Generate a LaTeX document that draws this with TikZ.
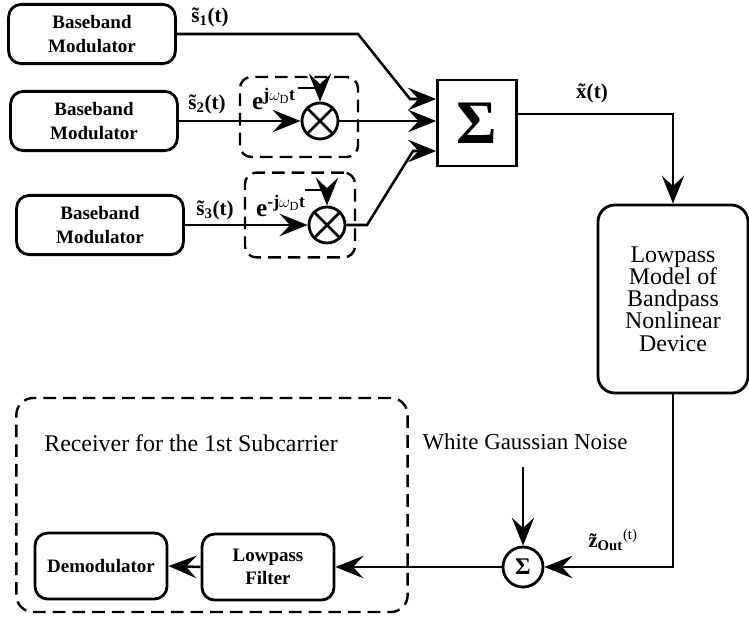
\documentclass[tikz,border=0pt]{standalone}
\usepackage{fontspec}
\setmainfont{Liberation Serif}
\usetikzlibrary{arrows.meta,calc,positioning}

\begin{document}
\begin{tikzpicture}[
      x=0.025cm, y=-0.025cm,
      >={Stealth[length=7mm,width=5.6mm,inset=2.6mm]},
      modBox/.style={draw, line width=2pt, rounded corners=9pt, minimum width=4.17cm, minimum height=1.48cm, align=center, font=\fontsize{13.5}{16.5}\selectfont\bfseries},
      rxBox/.style={modBox, minimum width=3.3cm, minimum height=1.65cm},
      modelBox/.style={draw, line width=2pt, rounded corners=12pt, minimum width=3.75cm, minimum height=4.7cm, align=center, font=\fontsize{17}{15.8}\selectfont},
      dashBox/.style={draw, line width=1.7pt, dash pattern=on 9pt off 5pt, rounded corners=8pt},
      mixer/.style={draw, circle, line width=2pt, minimum size=0.9cm, inner sep=0pt},
      sigLine/.style={line width=1.8pt},
      thinLine/.style={line width=1.1pt},
      lbl/.style={font=\fontsize{15}{15}\selectfont\bfseries, inner sep=1pt},
      expLbl/.style={font=\fontsize{18}{18}\selectfont\bfseries, inner sep=1pt}
    ]

    \useasboundingbox (0,0) rectangle (749,620);

    % -------- TRANSMITTERS --------
    \node[modBox] (mod1) at (92,34) {Baseband\\Modulator};
    \node[modBox] (mod2) at (94,121) {Baseband\\Modulator};
    \node[modBox] (mod3) at (100,225) {Baseband\\Modulator};

    \node[lbl] (s1) at (210,17) {\~{s}\textsubscript{1}(t)};
    \node[lbl] (s2) at (207,104) {\~{s}\textsubscript{2}(t)};
    \node[lbl] (s3) at (215,210) {\~{s}\textsubscript{3}(t)};

    % смесители
    \node[dashBox, minimum width=2.95cm, minimum height=2cm] (phBox2) at (299,117) {};
    \node[dashBox, minimum width=2.75cm, minimum height=2.12cm] (phBox3) at (300,215) {};

    \node[mixer] (mix2) at (320,121) {};
    \node[mixer] (mix3) at (327,225) {};
    \foreach \m in {mix2,mix3}
      \draw[line width=2pt] (\m.45) -- (\m.225) (\m.135) -- (\m.315);

    \node[expLbl] (exp2) at (274,99) {e\textsuperscript{j$\omega_{\mathrm{D}}$t}};
    \node[expLbl] (exp3) at (281,206) {e\textsuperscript{-j$\omega_{\mathrm{D}}$t}};
    \coordinate (ph2) at (298,88);
    \coordinate (ph3) at (305,190);

    \draw[thinLine,->] (ph2) -| (mix2.north);
    \draw[thinLine,->] (ph3) -| (mix3.north);

    % -------- SUM + NONLINEAR DEVICE --------
    \node[draw, line width=1.8pt, minimum width=1.98cm, minimum height=2.15cm, font=\fontsize{44}{44}\selectfont\bfseries] (sig) at (477,123) {Σ};
    \node[modelBox] (model) at (673,299) {Lowpass\\Model of\\Bandpass\\Nonlinear\\Device};
    \node[lbl] (xt) at (592,93) {\~{x}(t)};

    \draw[sigLine,->] (mod1.east) -- (358,34) -- (410,99) -- ([yshift=0.6cm]sig.west);
    \draw[sigLine,->] (mod2.east) -- (mix2.west);
    \draw[sigLine,->] (mix2.east) -- (mix2 -| sig.west);
    \draw[sigLine,->] (mod3.east) -- (mix3.west);
    \draw[sigLine,->] (mix3.east) -- (367,225) -- (413,151) -- ([yshift=-0.7cm]sig.west);
    \draw[thinLine,->] ([yshift=0.225cm]sig.east) -| (model.north);

    % -------- RECEIVER --------
    \node[dashBox, rounded corners=12pt, minimum width=9.78cm, minimum height=5.35cm] (rxArea) at (212,505) {};
    \node[font=\fontsize{17}{17}\selectfont] (rxTitle) at (191,443) {Receiver for the 1st Subcarrier};
    \node[rxBox] (demod) at (101,566) {Demodulator};
    \node[rxBox] (lpf) at (268,567) {Lowpass\\Filter};

    \node[mixer, minimum size=1cm, font=\fontsize{17}{17}\selectfont\bfseries] (nsum) at (523,567) {Σ};
    \node[font=\fontsize{16.3}{16}\selectfont] (noise) at (525,442) {White Gaussian Noise};
    \coordinate (nz) at (523,467);
    \node[lbl] (zout) at (613,540) {\~{z}\textsubscript{Out}\textsuperscript{\mdseries(t)}};

    \draw[thinLine,->] (model.south) |- (nsum.east);
    \draw[thinLine,->] (nz) -- (nsum.north);
    \draw[sigLine,->] (nsum.west) -- (lpf.east);
    \draw[sigLine,->] (lpf.west) -- (demod.east);

\end{tikzpicture}
\end{document}
